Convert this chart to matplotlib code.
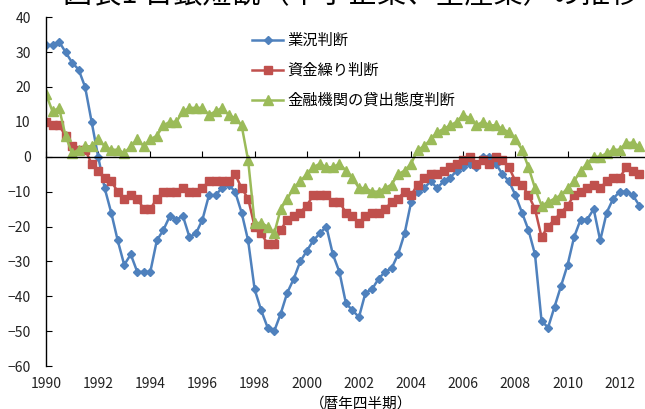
import matplotlib
matplotlib.use("Agg")
import matplotlib.pyplot as plt
import numpy as np

plt.rcParams["font.family"] = ["Noto Sans CJK JP", "DejaVu Sans"]

# --- data: quarterly, 1990Q1 .. 2012Q4 ---
start_year = 1990
n_quarters = 92

gyokyo = [32, 32, 33, 30, 27, 25, 20, 10, 0, -9, -16, -24,
          -31, -28, -33, -33, -33, -24, -21, -17, -18, -17, -23, -22,
          -18, -11, -11, -9, -8, -10, -16, -24, -38, -44, -49, -50,
          -45, -39, -35, -30, -27, -24, -22, -20, -28, -33, -42, -44,
          -46, -39, -38, -35, -33, -32, -28, -22, -13, -10, -9, -7,
          -9, -7, -6, -4, -3, -2, -3, 0, 0, -2, -5, -7,
          -11, -16, -21, -28, -47, -49, -43, -37, -31, -23, -18, -18,
          -15, -24, -16, -12, -10, -10, -11, -14]

shikinguri = [10, 9, 9, 6, 3, 2, 2, -2, -4, -6, -7, -10,
              -12, -11, -12, -15, -15, -12, -10, -10, -10, -9, -10, -10,
              -9, -7, -7, -7, -7, -5, -9, -12, -20, -22, -25, -25,
              -21, -18, -17, -16, -14, -11, -11, -11, -13, -13, -16, -17,
              -19, -17, -16, -16, -15, -13, -12, -10, -11, -8, -6, -5,
              -5, -4, -3, -2, -1, 0, -2, -1, -2, 0, -1, -3,
              -7, -8, -11, -15, -23, -20, -18, -16, -14, -11, -10, -9,
              -8, -9, -7, -6, -6, -3, -4, -5]

kashidashi = [18, 13, 14, 6, 1, 2, 3, 3, 5, 3, 2, 2,
              1, 3, 5, 3, 5, 6, 9, 10, 10, 13, 14, 14,
              14, 12, 13, 14, 12, 11, 9, -1, -19, -19, -20, -22,
              -15, -12, -9, -7, -5, -3, -2, -3, -3, -2, -4, -6,
              -9, -9, -10, -10, -9, -8, -5, -4, -2, 2, 3, 5,
              7, 8, 9, 10, 12, 11, 9, 10, 9, 9, 8, 7,
              5, 2, -3, -9, -14, -13, -12, -11, -9, -7, -4, -2,
              0, 0, 1, 2, 2, 4, 4, 3]

labels = ["業況判断", "資金繰り判断", "金融機関の貸出態度判断"]
year_ticks = list(range(1990, 2013, 2))

x = start_year + np.arange(n_quarters) / 4.0

# --- figure ---
fig = plt.figure(figsize=(6.45, 4.09), dpi=100)
ax = fig.add_axes([0.0713, 0.105, 0.93, 0.853])

ax.plot(x, gyokyo, color="#4F81BD", marker="D", markersize=4.5, lw=1.8, label=labels[0])
ax.plot(x, shikinguri, color="#C0504D", marker="s", markersize=6, lw=1.8, label=labels[1])
ax.plot(x, kashidashi, color="#9BBB59", marker="^", markersize=6.5, lw=1.8, label=labels[2])

ax.set_xlim(1990, 2013)
ax.set_ylim(-60, 40)
ax.set_yticks(range(-60, 41, 10))

# x axis line crosses at zero, ticks pointing up, labels at the bottom
ax.spines["bottom"].set_position(("data", 0))
ax.spines["bottom"].set_linewidth(1.0)
ax.spines["top"].set_visible(False)
ax.spines["right"].set_visible(False)
ax.spines["left"].set_linewidth(1.0)
ax.set_xticks(year_ticks)
ax.tick_params(axis="x", direction="in", length=4, labelbottom=False)
ax.tick_params(axis="y", direction="in", length=4, pad=11, labelsize=10, labelcolor="#222222")

sec = ax.secondary_xaxis(0.0)
sec.set_xticks(year_ticks)
sec.tick_params(length=0, pad=8, labelsize=10, labelcolor="#222222")
sec.spines["bottom"].set_visible(False)

ax.legend(loc="upper left", bbox_to_anchor=(0.37, 0.955), bbox_transform=fig.transFigure,
          frameon=False, fontsize=11, labelspacing=0.85, handlelength=2.0, handletextpad=0.3)

fig.text(0.56, 0.014, "（暦年四半期）", ha="center", va="center", fontsize=10.5)
fig.text(0.545, 1.015, "図表1 日銀短観（中小企業、全産業）の推移", ha="center", va="center", fontsize=21)

fig.savefig("out.png", dpi=100)
